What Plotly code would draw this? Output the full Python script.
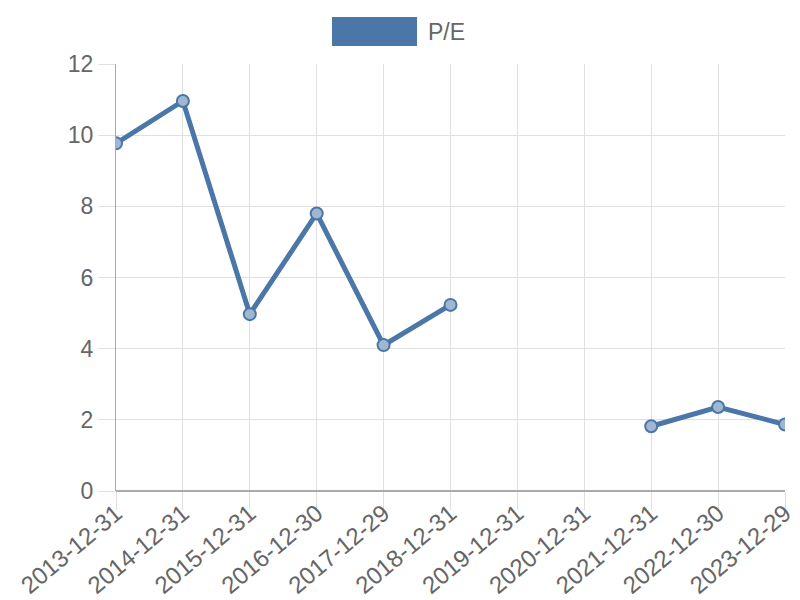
import plotly.graph_objects as go

dates = ["2013-12-31", "2014-12-31", "2015-12-31", "2016-12-30", "2017-12-29",
         "2018-12-31", "2019-12-31", "2020-12-31", "2021-12-31", "2022-12-30", "2023-12-29"]
pe = [9.77, 10.96, 4.97, 7.8, 4.1, 5.23, None, None, 1.82, 2.36, 1.87]
y_ticks = [0, 2, 4, 6, 8, 10, 12]

line_color = "rgb(74,118,168)"
font = "Liberation Sans, Arial, sans-serif"

# page body has an 8px margin; compensate so plot area lands at x 116..785, y 64..491
W, H = 792, 592
L, T, R, B = 108, 56, 15, 109
pw, ph = W - L - R, H - T - B

def px(x):
    return (x - 8 - L) / pw

def py(y):
    return (H - B - (y - 8)) / ph

fig = go.Figure()
fig.add_trace(go.Scatter(
    x=dates, y=pe, mode="lines+markers", name="P/E",
    connectgaps=False,
    line=dict(color=line_color, width=5),
    marker=dict(size=12, color="rgba(160,183,210,1)", line=dict(color=line_color, width=2)),
    showlegend=False,
))

fig.update_layout(
    width=W, height=H,
    margin=dict(l=L, r=R, t=T, b=B, autoexpand=False),
    plot_bgcolor="white", paper_bgcolor="white",
    font=dict(family=font, size=23, color="#666"),
    xaxis=dict(
        type="category", range=[0, len(dates) - 1], automargin=False,
        tickangle=-40, showgrid=True, gridcolor="#e0e0e0", gridwidth=1,
        ticks="outside", ticklen=18, tickcolor="#e0e0e0",
        ticklabelstandoff=-20,
        showline=False, zeroline=False,
        tickfont=dict(size=24, color="#666"),
    ),
    yaxis=dict(
        range=[0, 12], tickvals=y_ticks, showgrid=True, gridcolor="#e0e0e0",
        automargin=False,
        ticks="outside", ticklen=17, tickcolor="#e0e0e0",
        showline=True, linecolor="#aaa", linewidth=1, zeroline=False,
        tickfont=dict(size=23, color="#666"),
    ),
    shapes=[
        dict(type="line", xref="paper", yref="paper", x0=0, x1=1, y0=0, y1=0,
             line=dict(color="#aaa", width=2)),
        dict(type="rect", xref="paper", yref="paper",
             x0=px(332), x1=px(417), y0=py(46), y1=py(17),
             fillcolor=line_color, line=dict(width=0)),
    ],
    annotations=[
        dict(text="P/E", xref="paper", yref="paper",
             x=px(426), y=py(32),
             xanchor="left", yanchor="middle", showarrow=False,
             font=dict(size=23, color="#666", family=font)),
    ],
)

fig.write_html("out.html")
